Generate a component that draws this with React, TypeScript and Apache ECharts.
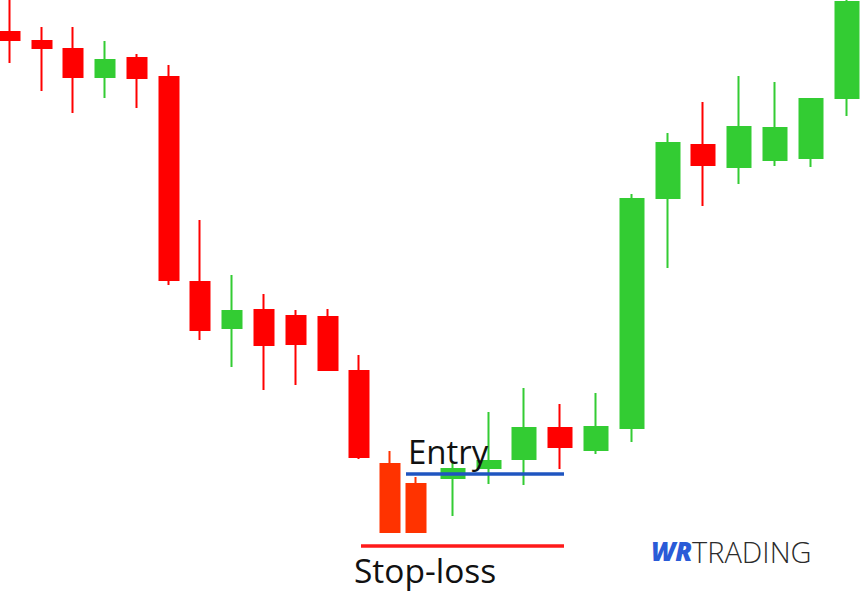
import React, { useEffect, useRef } from "react";
import * as echarts from "echarts";

// time positions of each candle (session index, arbitrary units)
const timesA = [1.0, 4.2, 7.3, 10.5, 13.7, 16.9, 20.0, 23.2, 26.4, 29.6, 32.8, 35.9, 39.0, 41.6];
const timesB = [45.3, 48.9, 52.4, 56.0, 59.6, 63.2, 66.8, 70.3, 73.9, 77.5, 81.1, 84.7];

// [open, close, low, high]
const ohlcA = [
  [141.5, 139.5, 133.75, 150],
  [139.25, 137.5, 126.75, 142.75],
  [137.25, 130.25, 121.25, 142.75],
  [130.25, 134.5, 125, 139.25],
  [135, 130, 122.5, 136],
  [130.25, 79.5, 78.25, 133.25],
  [79, 67, 64.5, 94.5],
  [67.5, 71.75, 57.75, 80.75],
  [72, 63.25, 52, 76],
  [70.5, 63.5, 53.25, 72],
  [70.25, 57, 57, 72.25],
  [56.75, 35.25, 34.75, 60.75],
  [33.5, 16.5, 16.5, 36.75],
  [28.5, 16.5, 16.5, 30.25],
];
const ohlcB = [
  [30, 32.25, 20.5, 33.75],
  [32.5, 34.25, 28.5, 46.5],
  [34.75, 42.5, 28.25, 52.5],
  [42.5, 37.75, 32.25, 48.5],
  [37, 42.75, 36, 51.25],
  [42.5, 99.75, 39, 101],
  [100, 113.75, 82.5, 116.25],
  [113.25, 108.25, 98, 124],
  [107.75, 117.75, 103.5, 130.5],
  [109.5, 117.5, 108, 129],
  [110, 124.75, 107.75, 124.75],
  [125, 149, 120.5, 150],
];
// candles highlighted as the setup (indices in ohlcA)
const setupIdx = [12, 13];

const entryPrice = 31;
const entryRange = [40.6, 56.4];
const stopPrice = 13;
const stopRange = [36.1, 56.4];

const GREEN = "#33CC33";
const RED = "#FF0000";
const ORANGE = "#FF3300";

export default function App() {
  const ref = useRef<HTMLDivElement>(null);
  useEffect(() => {
    if (!ref.current) return;
    const chart = echarts.init(ref.current, undefined, { renderer: "svg" });
    const dataA = ohlcA.map((d, i) => {
      const v = [timesA[i], ...d];
      if (setupIdx.includes(i)) {
        return { value: v, itemStyle: { color0: ORANGE, borderColor0: ORANGE } };
      }
      return { value: v };
    });
    const dataB = ohlcB.map((d, i) => ({ value: [timesB[i], ...d] }));
    const candleStyle = {
      color: GREEN,
      color0: RED,
      borderColor: GREEN,
      borderColor0: RED,
      borderWidth: 2,
    };
    chart.setOption({
      animation: false,
      backgroundColor: "#ffffff",
      grid: { left: 0, right: 0, top: 0, bottom: 0 },
      xAxis: { type: "value", min: 0, max: 86, show: false },
      yAxis: { type: "value", min: 0, max: 149.5, show: false },
      series: [
        {
          type: "candlestick",
          barWidth: 20,
          encode: { x: 0, y: [1, 2, 3, 4] },
          itemStyle: candleStyle,
          data: dataA,
        },
        {
          type: "candlestick",
          barWidth: 23,
          encode: { x: 0, y: [1, 2, 3, 4] },
          itemStyle: candleStyle,
          data: dataB,
        },
        {
          type: "line",
          symbol: "none",
          silent: true,
          lineStyle: { color: "#1F55C0", width: 3.5 },
          data: [
            [entryRange[0], entryPrice],
            [entryRange[1], entryPrice],
          ],
          z: 5,
        },
        {
          type: "line",
          symbol: "none",
          silent: true,
          lineStyle: { color: "#FF1A1A", width: 3.5 },
          data: [
            [stopRange[0], stopPrice],
            [stopRange[1], stopPrice],
          ],
          z: 5,
        },
      ],
      graphic: [
        {
          type: "text",
          left: 408,
          top: 435,
          z: 10,
          style: {
            text: "Entry",
            font: '400 33px "Open Sans", sans-serif',
            fill: "#111111",
          },
        },
        {
          type: "text",
          left: 354,
          top: 553,
          z: 10,
          style: {
            text: "Stop-loss",
            font: '400 33.5px "Open Sans", sans-serif',
            fill: "#111111",
          },
        },
        {
          type: "text",
          left: 651,
          top: 538,
          z: 10,
          style: {
            text: "WR",
            font: 'italic 800 26px "Open Sans", sans-serif',
            fill: "#2A5BD7",
          },
        },
        {
          type: "text",
          left: 692,
          top: 537,
          z: 10,
          style: {
            text: "TRADING",
            font: '300 29px "Open Sans", sans-serif',
            fill: "#2B2B2B",
          },
        },
      ],
    });
    return () => chart.dispose();
  }, []);
  return (
    <div
      ref={ref}
      style={{ position: "fixed", left: 0, top: 0, width: 860, height: 598, background: "#fff" }}
    />
  );
}
